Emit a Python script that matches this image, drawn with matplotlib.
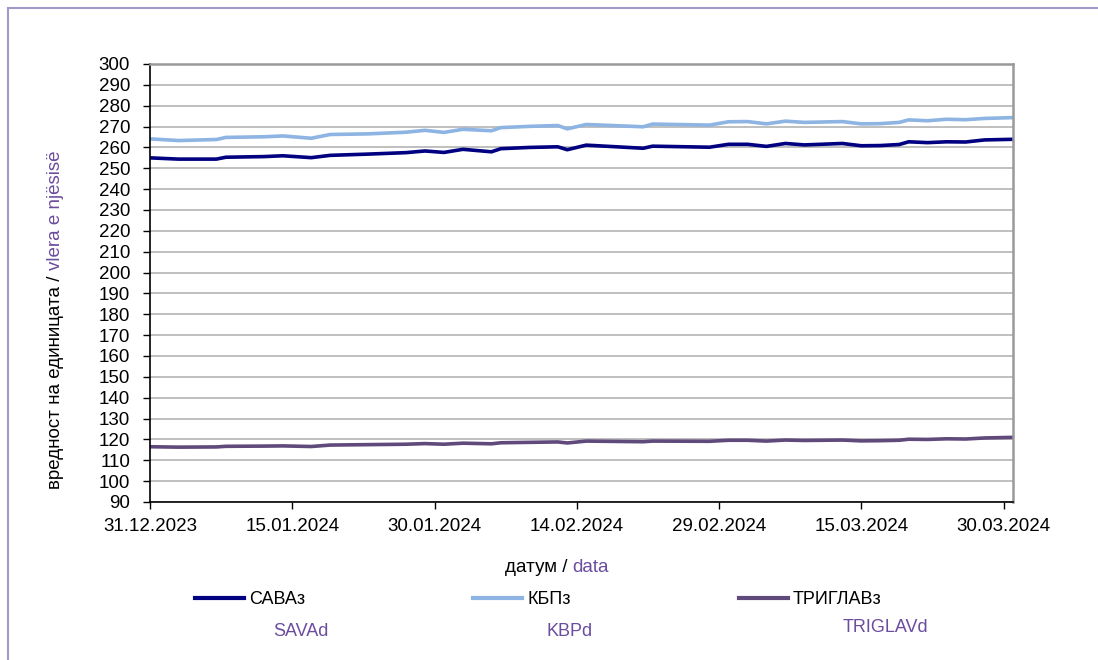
import numpy as np
import pandas as pd
import matplotlib
matplotlib.use("Agg")
import matplotlib.pyplot as plt
import matplotlib.dates as mdates
from matplotlib.patches import Rectangle

# вредност на единицата / vlera e njësisë
dates = ["2023-12-31", "2024-01-03", "2024-01-07", "2024-01-08", "2024-01-12",
         "2024-01-14", "2024-01-17", "2024-01-19", "2024-01-23", "2024-01-27",
         "2024-01-29", "2024-01-31", "2024-02-02", "2024-02-05", "2024-02-06",
         "2024-02-09", "2024-02-12", "2024-02-13", "2024-02-15", "2024-02-21",
         "2024-02-22", "2024-02-28", "2024-03-01", "2024-03-03", "2024-03-05",
         "2024-03-07", "2024-03-09", "2024-03-13", "2024-03-15", "2024-03-17",
         "2024-03-19", "2024-03-20", "2024-03-22", "2024-03-24", "2024-03-26",
         "2024-03-28", "2024-03-31"]

sava = [255.0, 254.4, 254.4, 255.3, 255.6, 256.0, 255.1, 256.2, 256.8, 257.5,
        258.3, 257.6, 259.1, 257.9, 259.4, 260.0, 260.3, 258.9, 261.1, 259.6,
        260.6, 260.1, 261.5, 261.5, 260.5, 261.9, 261.2, 261.9, 260.8, 260.9,
        261.4, 262.7, 262.3, 262.7, 262.6, 263.6, 263.9]

kbp = [264.1, 263.3, 263.8, 264.8, 265.1, 265.5, 264.4, 266.2, 266.5, 267.3,
       268.2, 267.2, 268.7, 268.0, 269.5, 270.1, 270.5, 268.9, 271.0, 269.9,
       271.2, 270.7, 272.3, 272.4, 271.3, 272.6, 272.0, 272.4, 271.3, 271.4,
       272.0, 273.2, 272.8, 273.5, 273.3, 273.9, 274.3]

triglav = [116.5, 116.3, 116.4, 116.7, 116.8, 116.9, 116.6, 117.3, 117.5, 117.7,
           118.0, 117.7, 118.2, 117.9, 118.4, 118.6, 118.8, 118.3, 119.2, 118.9,
           119.2, 119.1, 119.6, 119.6, 119.2, 119.7, 119.5, 119.7, 119.3, 119.4,
           119.6, 120.1, 120.0, 120.3, 120.2, 120.7, 121.0]

names_mk = ["САВАз", "КБПз", "ТРИГЛАВз"]
names_al = ["SAVAd", "KBPd", "TRIGLAVd"]
colors = ["#000080", "#8db4e2", "#604a7b"]
purple = "#6b4c9e"

x = pd.to_datetime(dates)
ticks = pd.date_range("2023-12-31", periods=7, freq="15D")

plt.rcParams["font.family"] = ["Liberation Sans", "DejaVu Sans"]
plt.rcParams["font.size"] = 13.5

fig = plt.figure(figsize=(10.98, 6.6), dpi=100)
W, H = 1098, 660

# outer frame
fig.patches.append(Rectangle((8 / W, -0.1), 1.2, (H - 8) / H + 0.1,
                             transform=fig.transFigure, fill=False,
                             edgecolor="#a398c8", lw=1.5))

ax = fig.add_axes([150 / W, (H - 502) / H, (1013 - 150) / W, (502 - 64) / H])

for vals, c, lab in zip([sava, kbp, triglav], colors, names_mk):
    ax.plot(x, vals, color=c, lw=2.6, label=lab, solid_joinstyle="round")

ax.set_ylim(90, 300)
ax.set_yticks(np.arange(90, 301, 10))
ax.set_xlim(x[0], x[-1])
ax.set_xticks(ticks)
ax.xaxis.set_major_formatter(mdates.DateFormatter("%d.%m.%Y"))
ax.grid(axis="y", color="#b4b4b4", lw=1.2)
ax.set_axisbelow(True)
ax.tick_params(direction="out", length=5, width=1, color="black")
ax.tick_params(axis="y", pad=9.4)
ax.tick_params(axis="x", pad=6.5)
for s in ["top", "right"]:
    ax.spines[s].set_color("#999999")
    ax.spines[s].set_linewidth(1.8)
for s in ["left", "bottom"]:
    ax.spines[s].set_color("black")
    ax.spines[s].set_linewidth(1.2)

# two-colour axis titles
fig.canvas.draw()
r = fig.canvas.get_renderer()


def text_width(s):
    t = fig.text(0, 0, s)
    w = t.get_window_extent(r).width
    t.remove()
    return w


# x title
full = "датум / data"
wfull = text_width(full)
cx, by = 557, H - 572
fig.text((cx - wfull / 2) / W, by / H, "датум /", ha="left", va="baseline")
fig.text((cx + wfull / 2) / W, by / H, "data", ha="right", va="baseline",
         color=purple)

# y title
full = "вредност на единицата / vlera e njësisë"
wfull = text_width(full)
bx, cy = 60, H - 320
fig.text(bx / W, (cy - wfull / 2) / H, "вредност на единицата /", rotation=90,
         rotation_mode="anchor", ha="left", va="baseline")
fig.text(bx / W, (cy + wfull / 2) / H, "vlera e njësisë", rotation=90,
         rotation_mode="anchor", ha="right", va="baseline", color=purple)

# legend
fig.legend(loc="center left", bbox_to_anchor=(195 / W, (H - 600) / H),
           ncol=3, frameon=False, borderpad=0, borderaxespad=0,
           handlelength=2.7, handletextpad=0.3, columnspacing=9.3,
           fontsize=13)
for lab, px, py in zip(names_al, [273, 547, 843], [631, 631, 627]):
    fig.text(px / W, (H - py) / H, lab, color=purple, va="center", ha="left",
             fontsize=13)

# thicker legend lines
for line in fig.legends[0].get_lines():
    line.set_linewidth(3)

fig.savefig("out.png", dpi=100)
